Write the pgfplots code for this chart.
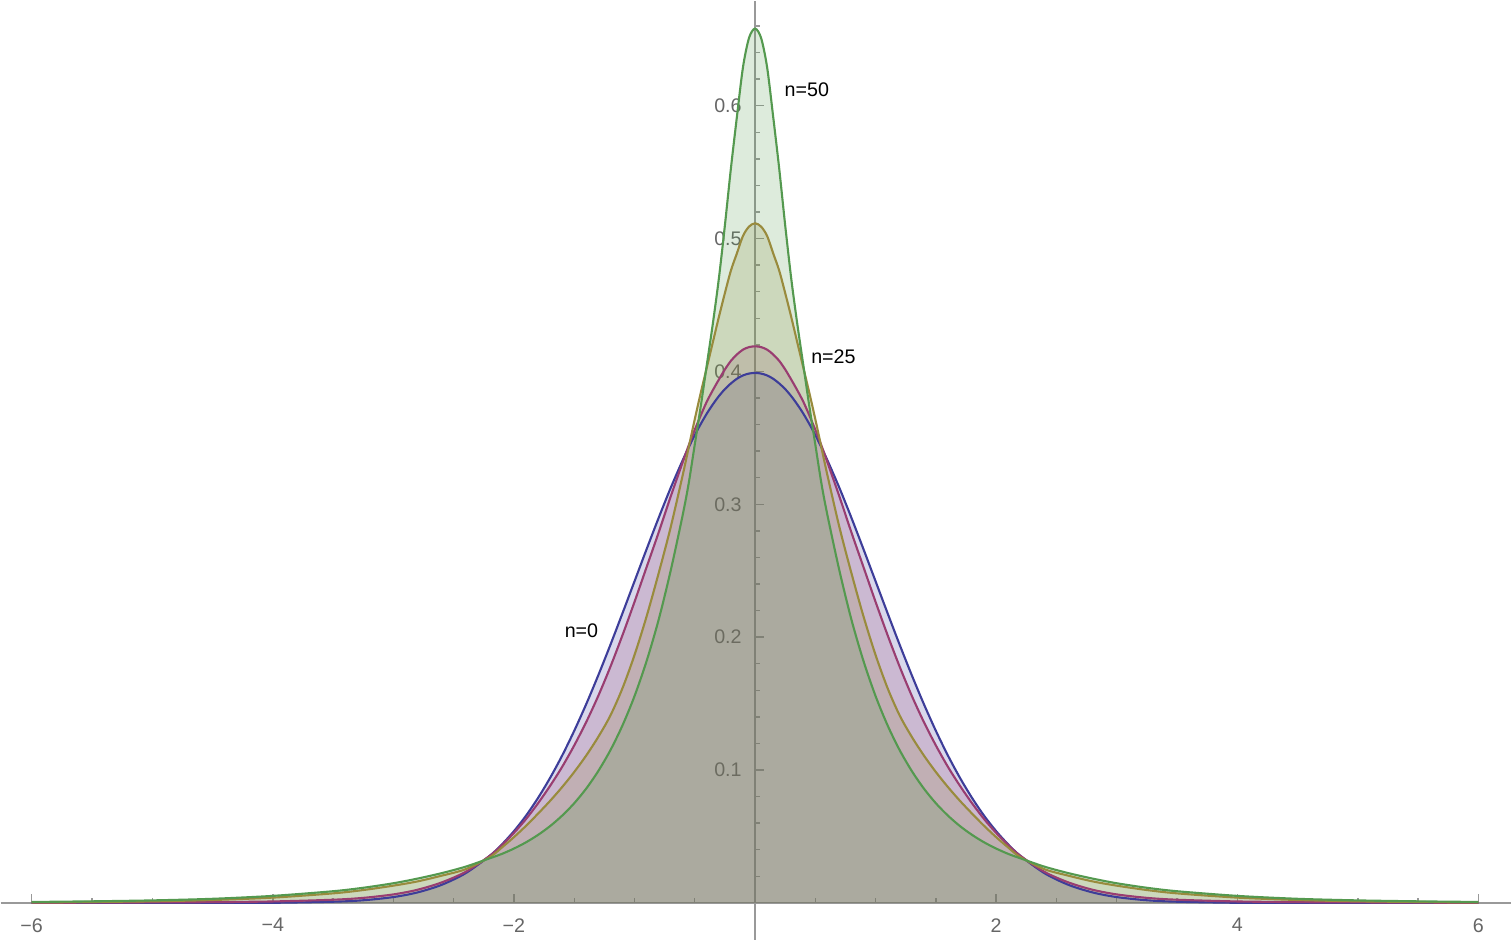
\documentclass[border=0pt]{standalone}
\usepackage{fontspec}
\setmainfont{Liberation Sans}
\usepackage{pgfplots}
\pgfplotsset{compat=1.18}
\usepackage{pgfplotstable}
\definecolor{cblue}{rgb}{0.24,0.24,0.6}
\definecolor{cpurple}{rgb}{0.6,0.24,0.443}
\definecolor{colive}{rgb}{0.6,0.547,0.24}
\definecolor{cgreen}{rgb}{0.33,0.6,0.31}
\definecolor{axisgray}{gray}{0.6}
\definecolor{labgray}{gray}{0.4}
\pgfplotstableread{
x blue purple olive green
-6.0 0.0000 0.0001 0.0004 0.0007
-5.5 0.0000 0.0002 0.0007 0.0012
-5.0 0.0000 0.0004 0.0012 0.0019
-4.5 0.0000 0.0006 0.0022 0.0031
-4.0 0.0001 0.0011 0.0040 0.0053
-3.5 0.0009 0.0024 0.0072 0.0088
-3.25 0.0020 0.0038 0.0097 0.0114
-3.0 0.0044 0.0064 0.0130 0.0148
-2.8 0.0079 0.0099 0.0162 0.0183
-2.6 0.0136 0.0154 0.0205 0.0224
-2.4 0.0224 0.0234 0.0254 0.0273
-2.2 0.0355 0.0355 0.0345 0.0336
-2.1 0.0440 0.0435 0.0417 0.0369
-2.0 0.0540 0.0527 0.0495 0.0409
-1.9 0.0656 0.0631 0.0580 0.0456
-1.8 0.0790 0.0750 0.0672 0.0512
-1.7 0.0941 0.0881 0.0768 0.0578
-1.6 0.1109 0.1024 0.0872 0.0657
-1.5 0.1295 0.1185 0.0985 0.0750
-1.4 0.1497 0.1362 0.1110 0.0861
-1.3 0.1714 0.1559 0.1250 0.0993
-1.2 0.1942 0.1777 0.1410 0.1149
-1.1 0.2179 0.2014 0.1615 0.1335
-1.0 0.2420 0.2265 0.1865 0.1556
-0.9 0.2661 0.2526 0.2155 0.1819
-0.8 0.2897 0.2787 0.2480 0.2130
-0.7 0.3123 0.3058 0.2827 0.2500
-0.6 0.3332 0.3317 0.3220 0.2920
-0.55 0.3429 0.3444 0.3430 0.3160
-0.5 0.3521 0.3561 0.3640 0.3450
-0.45 0.3605 0.3670 0.3840 0.3740
-0.4 0.3683 0.3773 0.4030 0.4050
-0.35 0.3752 0.3859 0.4220 0.4360
-0.3 0.3814 0.3939 0.4410 0.4700
-0.25 0.3867 0.4015 0.4590 0.5100
-0.2 0.3910 0.4080 0.4760 0.5530
-0.15 0.3945 0.4128 0.4890 0.5920
-0.1 0.3970 0.4164 0.5020 0.6290
-0.05 0.3984 0.4183 0.5090 0.6510
0.0 0.3989 0.4189 0.5115 0.6580
0.05 0.3984 0.4183 0.5090 0.6510
0.1 0.3970 0.4164 0.5020 0.6290
0.15 0.3945 0.4128 0.4890 0.5920
0.2 0.3910 0.4080 0.4760 0.5530
0.25 0.3867 0.4015 0.4590 0.5100
0.3 0.3814 0.3939 0.4410 0.4700
0.35 0.3752 0.3859 0.4220 0.4360
0.4 0.3683 0.3773 0.4030 0.4050
0.45 0.3605 0.3670 0.3840 0.3740
0.5 0.3521 0.3561 0.3640 0.3450
0.55 0.3429 0.3444 0.3430 0.3160
0.6 0.3332 0.3317 0.3220 0.2920
0.7 0.3123 0.3058 0.2827 0.2500
0.8 0.2897 0.2787 0.2480 0.2130
0.9 0.2661 0.2526 0.2155 0.1819
1.0 0.2420 0.2265 0.1865 0.1556
1.1 0.2179 0.2014 0.1615 0.1335
1.2 0.1942 0.1777 0.1410 0.1149
1.3 0.1714 0.1559 0.1250 0.0993
1.4 0.1497 0.1362 0.1110 0.0861
1.5 0.1295 0.1185 0.0985 0.0750
1.6 0.1109 0.1024 0.0872 0.0657
1.7 0.0941 0.0881 0.0768 0.0578
1.8 0.0790 0.0750 0.0672 0.0512
1.9 0.0656 0.0631 0.0580 0.0456
2.0 0.0540 0.0527 0.0495 0.0409
2.1 0.0440 0.0435 0.0417 0.0369
2.2 0.0355 0.0355 0.0345 0.0336
2.4 0.0224 0.0234 0.0254 0.0273
2.6 0.0136 0.0154 0.0205 0.0224
2.8 0.0079 0.0099 0.0162 0.0183
3.0 0.0044 0.0064 0.0130 0.0148
3.25 0.0020 0.0038 0.0097 0.0114
3.5 0.0009 0.0024 0.0072 0.0088
4.0 0.0001 0.0011 0.0040 0.0053
4.5 0.0000 0.0006 0.0022 0.0031
5.0 0.0000 0.0004 0.0012 0.0019
5.5 0.0000 0.0002 0.0007 0.0012
6.0 0.0000 0.0001 0.0004 0.0007
}\data

\begin{document}
\begin{tikzpicture}
\begin{axis}[
  scale only axis,
  width=15.12cm, height=9.4cm,
  xmin=-6.257, xmax=6.273, ymin=-0.0278, ymax=0.679,
  axis lines=middle,
  axis line style={-, draw=axisgray, line width=0.4pt},
  xtick={-6,-4,-2,2,4,6},
  xticklabels={−6,−4,−2,2,4,6},
  ytick={0.1,0.2,0.3,0.4,0.5,0.6},
  yticklabels={0.1,0.2,0.3,0.4,0.5,0.6},
  minor xtick={-6,-5.5,-5,-4.5,-4,-3.5,-3,-2.5,-2,-1.5,-1,-0.5,0.5,1,1.5,2,2.5,3,3.5,4,4.5,5,5.5,6},
  minor ytick={0.02,0.04,0.06,0.08,0.12,0.14,0.16,0.18,0.22,0.24,0.26,0.28,0.32,0.34,0.36,0.38,0.42,0.44,0.46,0.48,0.52,0.54,0.56,0.58,0.62,0.64,0.66},
  tick align=inside,
  major tick length=0.9mm,
  minor tick length=0.5mm,
  tick style={draw=axisgray, line width=0.4pt},
  ticklabel style={font=\fontsize{5.6}{6.5}\selectfont, text=labgray},
  xticklabel style={anchor=north, yshift=-0.3mm},
  yticklabel style={anchor=east, xshift=-0.1mm},
  clip=false,
]
\addplot[draw=none, fill=cblue, fill opacity=0.2, smooth] table[x=x, y=blue]{\data} \closedcycle;
\addplot[draw=none, fill=cpurple, fill opacity=0.2, smooth] table[x=x, y=purple]{\data} \closedcycle;
\addplot[draw=none, fill=colive, fill opacity=0.2, smooth] table[x=x, y=olive]{\data} \closedcycle;
\addplot[draw=none, fill=cgreen, fill opacity=0.2, smooth] table[x=x, y=green]{\data} \closedcycle;
\addplot[cblue, line width=0.6pt, smooth] table[x=x, y=blue]{\data};
\addplot[cpurple, line width=0.6pt, smooth] table[x=x, y=purple]{\data};
\addplot[colive, line width=0.6pt, smooth] table[x=x, y=olive]{\data};
\addplot[cgreen, line width=0.6pt, smooth] table[x=x, y=green]{\data};
\node[font=\fontsize{5.6}{6.5}\selectfont] at (axis cs:0.43,0.612) {n=50};
\node[font=\fontsize{5.6}{6.5}\selectfont] at (axis cs:0.65,0.411) {n=25};
\node[font=\fontsize{5.6}{6.5}\selectfont] at (axis cs:-1.44,0.205) {n=0};
\end{axis}
\end{tikzpicture}
\end{document}
